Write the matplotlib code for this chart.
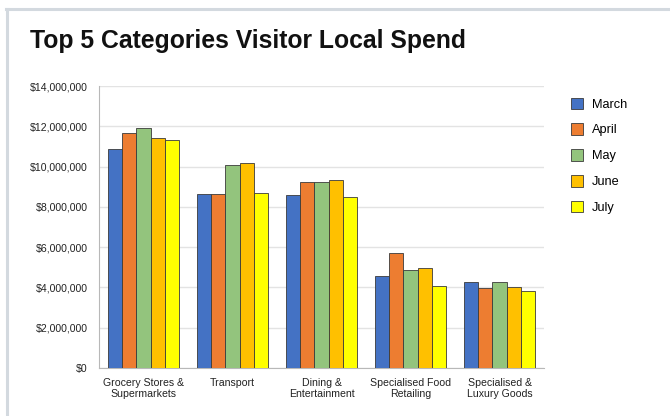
import matplotlib.pyplot as plt
import numpy as np
from matplotlib.lines import Line2D
from matplotlib.ticker import FuncFormatter, MultipleLocator

plt.rcParams['font.family'] = ['Liberation Sans', 'DejaVu Sans']

categories = ["Grocery Stores &\nSupermarkets", "Transport", "Dining &\nEntertainment",
              "Specialised Food\nRetailing", "Specialised &\nLuxury Goods"]
months = ["March", "April", "May", "June", "July"]
colors = ["#4472C4", "#ED7D31", "#93C47D", "#FFC000", "#FFFF00"]

march = [10.86e6, 8.62e6, 8.57e6, 4.57e6, 4.27e6]
april = [11.67e6, 8.62e6, 9.25e6, 5.72e6, 3.99e6]
may = [11.92e6, 10.06e6, 9.25e6, 4.87e6, 4.29e6]
june = [11.40e6, 10.19e6, 9.33e6, 4.98e6, 4.04e6]
july = [11.30e6, 8.69e6, 8.47e6, 4.06e6, 3.84e6]
series = [march, april, may, june, july]

fig = plt.figure(figsize=(6.7, 4.16), dpi=100)
ax = fig.add_axes([99 / 670, 1 - 368 / 416, 445 / 670, 282 / 416])

x = np.arange(len(categories))
w = 0.158
for i, (vals, col, name) in enumerate(zip(series, colors, months)):
    ax.bar(x + (i - 2) * w, vals, width=w, color=col, edgecolor="#3a3a3a",
           linewidth=0.6, label=name, zorder=3)

ax.set_xlim(-0.5, len(categories) - 0.5)
ax.set_ylim(0, 14e6)
ax.yaxis.set_major_locator(MultipleLocator(2e6))
ax.yaxis.set_major_formatter(FuncFormatter(lambda v, p: f"${v:,.0f}"))
ax.grid(axis="y", color="#e3e3e3", linewidth=1, zorder=0)
ax.set_xticks(x)
ax.set_xticklabels(categories, fontsize=7.6, color="#222222", linespacing=1.2)
ax.tick_params(axis="y", labelsize=7.6, colors="#222222", length=0, pad=8)
ax.tick_params(axis="x", length=0, pad=7)
for s in ["top", "right"]:
    ax.spines[s].set_visible(False)
ax.spines["left"].set_color("#b8b8b8")
ax.spines["bottom"].set_color("#b8b8b8")

handles, labels = ax.get_legend_handles_labels()
fig.legend(handles, labels, loc="upper left", bbox_to_anchor=(559 / 670, 1 - 86 / 416),
           frameon=False, fontsize=9.2, handlelength=1.0, handleheight=1.0,
           labelspacing=1.0, handletextpad=0.7)

fig.text(30 / 670, 1 - 48 / 416, "Top 5 Categories Visitor Local Spend",
         fontsize=17.8, fontweight="bold", va="baseline", ha="left", color="#111111")

# card border
fig.add_artist(Line2D([6 / 670, 1], [1 - 8.5 / 416] * 2, color="#d3d9df", linewidth=2.2,
                      transform=fig.transFigure))
fig.add_artist(Line2D([7 / 670] * 2, [0, 1 - 8.5 / 416], color="#d3d9df", linewidth=2.2,
                      transform=fig.transFigure))

fig.savefig("out.png", dpi=100)
